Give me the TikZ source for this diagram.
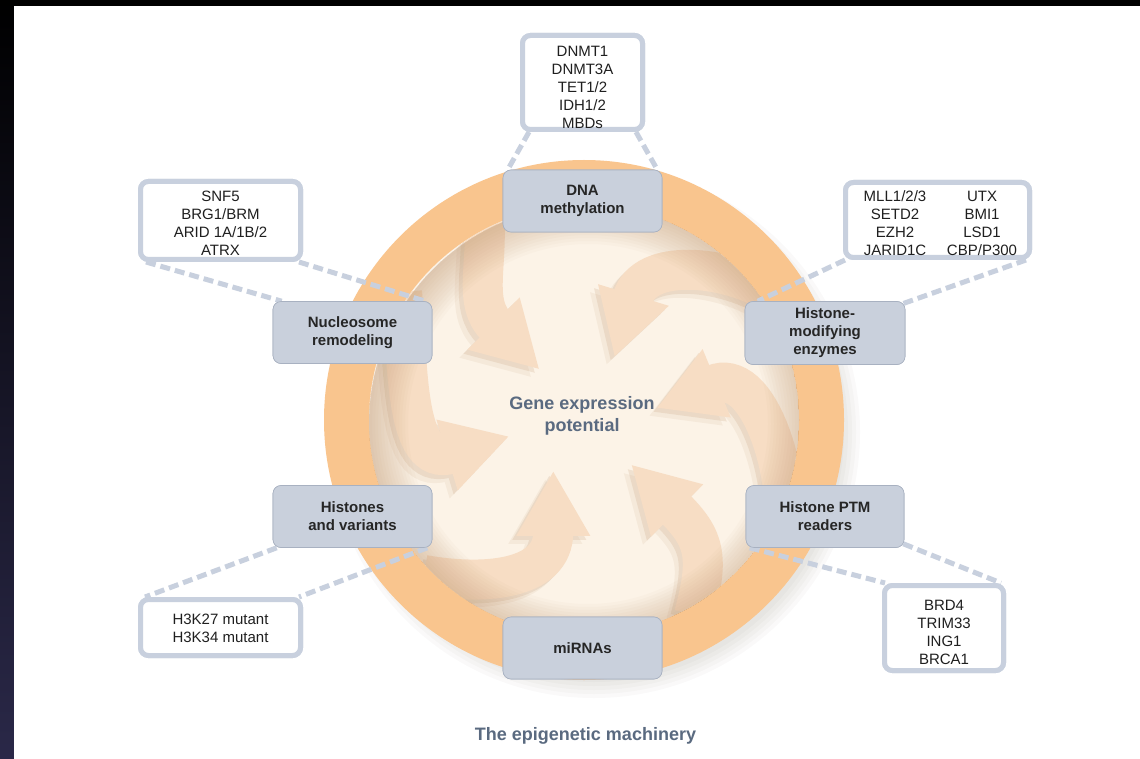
\documentclass[tikz,border=0pt]{standalone}
\usepackage{fontspec}
\setmainfont{Liberation Sans}
\usetikzlibrary{calc}
\definecolor{ringc}{RGB}{249,197,142}
\definecolor{diskc}{RGB}{252,243,231}
\definecolor{arrowc}{RGB}{247,221,196}
\definecolor{shadec}{RGB}{190,148,108}
\definecolor{boxc}{RGB}{201,208,220}
\definecolor{boxline}{RGB}{168,177,193}
\definecolor{listline}{RGB}{200,208,222}
\definecolor{titlec}{RGB}{90,106,128}
\definecolor{navy}{RGB}{42,40,72}
\newcommand\swirlpath[9]{%
  \draw[#1, line width=40pt] (#5,#6) .. controls ($(#5,#6)+(#7:#8)$) and ($(#2,#3)+(#4+180:#9)$) .. ($(#2,#3)+(#4:4)$);
  \fill[#1] ($(#2,#3)+(#4+90:37)$) -- ($(#2,#3)+(#4:64)$) -- ($(#2,#3)+(#4-90:37)$) -- cycle;
}
\newcommand\allswirls[1]{%
  \swirlpath{#1}{-90.5}{96.5}{-45}{-100}{205}{-85}{50}{30}%
  \swirlpath{#1}{49.4}{125}{-107}{184}{129}{150}{50}{40}%
  \swirlpath{#1}{132.7}{36.7}{202.4}{200}{-100}{85}{50}{45}%
  \swirlpath{#1}{-137}{-35}{16.7}{-182}{128}{-85}{70}{45}%
  \swirlpath{#1}{-30.7}{-115.8}{90}{-160}{-155}{-10}{60}{45}%
  \swirlpath{#1}{93.1}{-90.5}{135}{110}{-195}{75}{60}{40}%
}
\begin{document}
\begin{tikzpicture}[x=1pt,y=-1pt,
  labelbox/.style={draw=boxline, line width=0.6pt, fill=boxc, rounded corners=8pt,
    minimum width=159pt, minimum height=62pt, align=center, inner sep=0pt,
    font=\fontsize{15pt}{18pt}\selectfont\bfseries, text=black!85},
  listbox/.style={draw=listline, line width=5pt, fill=white, rounded corners=8pt, inner sep=0pt},
  listtext/.style={align=center, inner sep=0pt, font=\fontsize{15pt}{18pt}\selectfont, text=black!88},
  link/.style={draw=listline, line width=5pt, dash pattern=on 10pt off 5pt},
  gtext/.style={inner sep=0pt, font=\fontsize{18pt}{22pt}\selectfont\bfseries, text=titlec}]
\useasboundingbox (0,0) rectangle (1140,759);
\fill[black] (0,0) rectangle (1140,759);
\shade[top color=black, bottom color=navy] (0,0) rectangle (14,759);
\fill[white] (14,6) rectangle (1140,759);

\begin{scope}[shift={(584,420)}, x=1pt, y=1pt]
  \foreach \r in {250,254,...,266} \fill[black!70!brown, opacity=0.025] (10,-12) circle (\r);
  \fill[ringc] (0,0) circle (260);
  \begin{scope}
    \clip (0,0) circle (215);
    \fill[diskc] (0,0) circle (215);
    \foreach \dx/\op in {8/0.10, 4/0.18} {
      \begin{scope}[shift={(-\dx,-\dx)}, transparency group, opacity=\op]
        \allswirls{shadec}
      \end{scope}
    }
    \allswirls{arrowc}
    \foreach \w in {3,6,...,39} \draw[shadec, opacity=0.04, line width=\w pt] (4,-4) circle ({219-\w/2});
  \end{scope}
\end{scope}

% boxes
\node[labelbox] (dna) at (582.5,201) {};
\node[labelbox] (nuc) at (352.5,332.5) {};
\node[labelbox, minimum width=160pt, minimum height=63pt] (hme) at (825,333) {};
\node[labelbox] (hv) at (352.5,516.5) {};
\node[labelbox, minimum width=158pt] (ptm) at (825,516.5) {};
\node[labelbox] (mir) at (582.5,648) {};

\node[listbox, minimum width=120pt, minimum height=94pt] (dnal) at (582.5,82.5) {};
\node[listbox, minimum width=160pt, minimum height=78pt] (snf) at (220.5,220.5) {};
\node[listbox, minimum width=184pt, minimum height=75pt] (mll) at (937.5,220) {};
\node[listbox, minimum width=160pt, minimum height=56pt] (h3k) at (220.5,627.5) {};
\node[listbox, minimum width=119pt, minimum height=85pt] (brd) at (944,628) {};

% dashed links
\draw[link] ([xshift=9pt]dnal.south west) -- ([xshift=5pt]dna.north west);
\draw[link] ([xshift=-9pt]dnal.south east) -- ([xshift=-5pt]dna.north east);
\draw[link] ([xshift=8pt]snf.south west) -- ([xshift=9pt]nuc.north west);
\draw[link] ([xshift=-4pt]snf.south east) -- ([xshift=-7pt]nuc.north east);
\draw[link] ([xshift=2pt]mll.south west) -- ([xshift=13pt]hme.north west);
\draw[link] ([xshift=-6pt]mll.south east) -- ([xshift=-4pt,yshift=-3pt]hme.north east);
\draw[link] ([xshift=4pt]hv.south west) -- ([xshift=7pt]h3k.north west);
\draw[link] ([xshift=-5pt]hv.south east) -- ([xshift=-4pt]h3k.north east);
\draw[link] ([xshift=4pt]ptm.south west) -- ([xshift=3pt]brd.north west);
\draw[link] ([xshift=-1pt,yshift=4pt]ptm.south east) -- ([xshift=-5pt]brd.north east);

% boxes over links, with their labels
\node[labelbox] (dnalab) at (dna) {DNA\\methylation};
\node[labelbox] (nuclab) at (nuc) {Nucleosome\\remodeling};
\node[labelbox, minimum width=160pt, minimum height=63pt] (hmelab) at (hme) {Histone-\\modifying\\enzymes};
\node[labelbox] (hvlab) at (hv) {Histones\\and variants};
\node[labelbox, minimum width=158pt] (ptmlab) at (ptm) {Histone PTM\\readers};
\node[labelbox] (mirlab) at (mir) {miRNAs};
\node[listbox, minimum width=120pt, minimum height=94pt] (dnalb) at (dnal) {};
\node[listbox, minimum width=160pt, minimum height=78pt] (snfb) at (snf) {};
\node[listbox, minimum width=184pt, minimum height=75pt] (mllb) at (mll) {};
\node[listbox, minimum width=160pt, minimum height=56pt] (h3kb) at (h3k) {};
\node[listbox, minimum width=119pt, minimum height=85pt] (brdb) at (brd) {};

% list texts
\node[listtext] (dnat) at (582.5,87) {DNMT1\\DNMT3A\\TET1/2\\IDH1/2\\MBDs};
\node[listtext] (snft) at (220.5,223) {SNF5\\BRG1/BRM\\ARID 1A/1B/2\\ATRX};
\node[listtext] (mllt1) at (895,223) {MLL1/2/3\\SETD2\\EZH2\\JARID1C};
\node[listtext] (mllt2) at (982,223) {UTX\\BMI1\\LSD1\\CBP/P300};
\node[listtext] (h3kt) at (220.5,628) {H3K27 mutant\\H3K34 mutant};
\node[listtext] (brdt) at (944,632) {BRD4\\TRIM33\\ING1\\BRCA1};

% central and title text
\node[gtext, anchor=base] (gene1) at (582,409) {Gene expression};
\node[gtext, anchor=base] (gene2) at (582,431) {potential};
\node[gtext, anchor=base] (title) at (585.5,740) {The epigenetic machinery};
\end{tikzpicture}
\end{document}
